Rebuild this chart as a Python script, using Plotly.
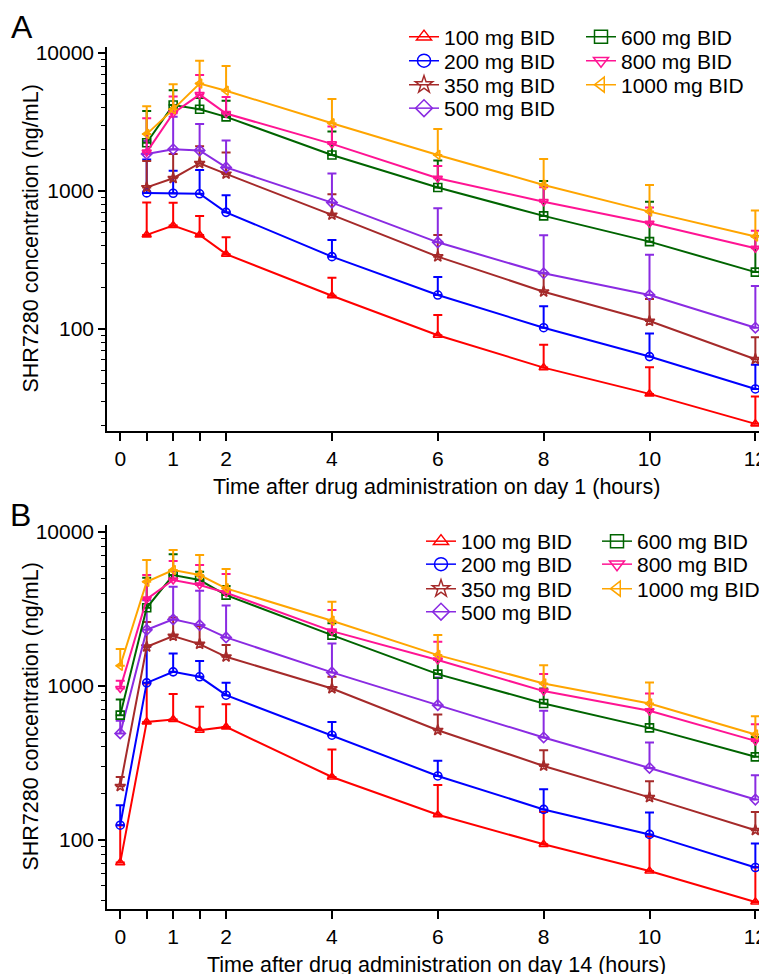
import plotly.graph_objects as go

# ---------------- data ----------------
doses = ["100 mg BID", "200 mg BID", "350 mg BID", "500 mg BID",
         "600 mg BID", "800 mg BID", "1000 mg BID"]

time_day1 = [0.5, 1, 1.5, 2, 4, 6, 8, 10, 12]
time_day14 = [0, 0.5, 1, 1.5, 2, 4, 6, 8, 10, 12]

# Day 1 means (ng/mL)
d1_100 = [480, 561, 480, 348, 174, 90, 52.4, 33.8, 20.5]
d1_200 = [967, 962, 953, 699, 334, 176, 102, 63, 36.7]
d1_350 = [1060, 1236, 1587, 1328, 670, 334, 186, 114, 60.3]
d1_500 = [1854, 2005, 1965, 1480, 823, 424, 253, 176, 102]
d1_600 = [2235, 4190, 3909, 3440, 1823, 1058, 659, 429, 258]
d1_800 = [1910, 3654, 4990, 3640, 2191, 1236, 836, 583, 384]
d1_1000 = [2580, 3900, 6000, 5320, 3092, 1823, 1105, 708, 467]
# Day 1 upper error bar ends (mean + SD)
d1_100_up = [823, 820, 659, 462, 235, 126, 76.6, 52.8, 32.3]
d1_200_up = [1690, 1400, 1420, 930, 441, 238, 146, 92.5, 55]
d1_350_up = [1650, 1854, 2106, 1895, 946, 480, 253, 165, 87]
d1_500_up = [2300, 3454, 3050, 2315, 1335, 750, 477, 344, 205]
d1_600_up = [3800, 5360, 4720, 4500, 2690, 1659, 1181, 836, 470]
d1_800_up = [3363, 4830, 6910, 4800, 2924, 1518, 1064, 757, 515]
d1_1000_up = [4100, 5930, 8790, 8050, 4642, 2813, 1706, 1105, 720]

# Day 14 means (ng/mL)
d14_100 = [70.8, 582, 604, 514, 540, 255, 145, 93.1, 62.5, 39.3]
d14_200 = [124, 1044, 1231, 1143, 868, 477, 259, 157, 108, 65.8]
d14_350 = [222, 1791, 2103, 1866, 1542, 960, 514, 301, 188, 115]
d14_500 = [490, 2310, 2700, 2479, 2062, 1221, 748, 461, 292, 182]
d14_600 = [644, 3214, 5246, 4866, 3885, 2134, 1190, 767, 532, 345]
d14_800 = [960, 3658, 4866, 4515, 4025, 2265, 1469, 923, 687, 438]
d14_1000 = [1348, 4742, 5650, 5246, 4297, 2644, 1582, 1035, 767, 482]
# Day 14 upper error bar ends (mean + SD)
d14_100_up = [124, 1035, 882, 729, 759, 385, 226, 151, 105, 66.4]
d14_200_up = [167, 1791, 1622, 1446, 1044, 582, 325, 212, 150, 94.2]
d14_350_up = [255, 2600, 2782, 2443, 1837, 1143, 650, 381, 239, 151]
d14_500_up = [591, 3600, 4400, 4148, 3329, 1885, 1132, 687, 428, 262]
d14_600_up = [814, 5035, 7146, 5510, 4447, 2544, 1483, 960, 701, 465]
d14_800_up = [1076, 5246, 6468, 6090, 5324, 3104, 1931, 1190, 891, 562]
d14_1000_up = [1730, 6564, 7625, 7080, 5735, 3516, 2134, 1361, 1050, 634]

x_tickvals = [0, 0.5, 1, 1.5, 2, 4, 6, 8, 10, 12]
x_ticktext = ["0", "", "1", "", "2", "4", "6", "8", "10", "12"]
y_tickvals = [100, 1000, 10000]
y_ticktext = ["100", "1000", "10000"]

# ---------------- styling ----------------
colors = ["#FF0000", "#0000FF", "#A52A2A", "#8A2BE2", "#006400", "#FF1493", "#FFA500"]
symbols = ["triangle-up-open", "circle-open", "star-open", "diamond-open",
           "square-open", "triangle-down-open", "triangle-left-open"]
FONT = "Arial, Liberation Sans, sans-serif"

day1_means = [d1_100, d1_200, d1_350, d1_500, d1_600, d1_800, d1_1000]
day1_ups = [d1_100_up, d1_200_up, d1_350_up, d1_500_up, d1_600_up, d1_800_up, d1_1000_up]
day14_means = [d14_100, d14_200, d14_350, d14_500, d14_600, d14_800, d14_1000]
day14_ups = [d14_100_up, d14_200_up, d14_350_up, d14_500_up, d14_600_up, d14_800_up, d14_1000_up]

# page offset: the browser body adds an 8px margin
OFF = 8
W, H = 767, 974
L, R = 107 - OFF, OFF
pw = W - L - R


def px_x(px):
    return (px - OFF - L) / pw


def px_y(py):
    return 1 - (py - OFF) / H


fig = go.Figure()


def add_panel(times, means, ups, xa, ya):
    for i in range(len(doses)):
        err = [u - m for u, m in zip(ups[i], means[i])]
        fig.add_trace(go.Scatter(
            x=times, y=means[i], mode="lines+markers", name=doses[i],
            xaxis=xa, yaxis=ya, showlegend=False,
            line=dict(color=colors[i], width=2),
            marker=dict(symbol=symbols[i], size=8, color=colors[i],
                        line=dict(color=colors[i], width=1.6)),
            error_y=dict(type="data", symmetric=False, array=err,
                         arrayminus=[0] * len(err), color=colors[i],
                         thickness=2, width=4.5),
        ))


add_panel(time_day1, day1_means, day1_ups, "x", "y")
add_panel(time_day14, day14_means, day14_ups, "x2", "y2")

# legend: one single-entry legend per row, two columns per panel
leg_common = dict(bgcolor="rgba(0,0,0,0)", borderwidth=0, xanchor="left", yanchor="middle",
                  font=dict(family=FONT, size=21, color="black"), tracegroupgap=0,
                  itemclick=False, itemdoubleclick=False)
panel_legend_pos = [
    # (col1 left px, col2 left px, row centres px)
    (404, 581, [37, 61, 85, 108.5]),
    (421, 597, [541.5, 564.5, 589, 612]),
]
legend_layout = {}
k = 0
for p, (c1, c2, rows) in enumerate(panel_legend_pos):
    for i in range(len(doses)):
        k += 1
        lname = "legend" if k == 1 else f"legend{k}"
        col_x = c1 if i < 4 else c2
        row_y = rows[i] if i < 4 else rows[i - 4]
        legend_layout[lname] = dict(leg_common, x=px_x(col_x), y=px_y(row_y))
        fig.add_trace(go.Scatter(
            x=[None], y=[None], mode="lines+markers", name=doses[i],
            xaxis="x" if p == 0 else "x2", yaxis="y" if p == 0 else "y2",
            legend=lname, showlegend=True,
            line=dict(color=colors[i], width=1.5),
            marker=dict(symbol=symbols[i], size=13, color=colors[i],
                        line=dict(color=colors[i], width=1.5)),
        ))


def minor_vals(lo, hi):
    vals = []
    for dec in [10, 100, 1000, 10000]:
        for kk in range(2, 10):
            v = kk * dec
            if lo <= v <= hi:
                vals.append(v)
    return vals


def ydom(top_px, bot_px):
    return [px_y(bot_px), px_y(top_px)]


axis_common = dict(showgrid=False, zeroline=False, showline=True, linecolor="black",
                   linewidth=1.5, ticks="outside", tickcolor="black", tickwidth=1.5,
                   automargin=False,
                   tickfont=dict(family=FONT, size=21, color="black"))

xaxis_cfg = dict(axis_common, range=[-0.25, 12.22], tickmode="array",
                 tickvals=x_tickvals, ticktext=x_ticktext, ticklen=8)

fig.update_layout(
    width=W, height=H,
    margin=dict(l=L, r=R, t=0, b=0, autoexpand=False),
    paper_bgcolor="white", plot_bgcolor="white",
    font=dict(family=FONT, size=21, color="black"),
    xaxis=dict(xaxis_cfg, anchor="y", domain=[0, 1]),
    xaxis2=dict(xaxis_cfg, anchor="y2", domain=[0, 1]),
    yaxis=dict(axis_common, type="log", range=[1.26, 4.043], domain=ydom(47, 431),
               anchor="x", tickmode="array", tickvals=y_tickvals, ticktext=y_ticktext,
               ticklen=7,
               minor=dict(tickvals=minor_vals(18, 11000), ticks="outside",
                          ticklen=4, tickcolor="black", tickwidth=1.2)),
    yaxis2=dict(axis_common, type="log", range=[1.5485, 4.045], domain=ydom(525, 909),
                anchor="x2", tickmode="array", tickvals=y_tickvals, ticktext=y_ticktext,
                ticklen=7,
                minor=dict(tickvals=minor_vals(35, 11000), ticks="outside",
                           ticklen=4, tickcolor="black", tickwidth=1.2)),
    **legend_layout,
)

ytitle = "SHR7280 concentration (ng/mL)"
ann = []
for top, bot in [(47, 431), (525, 909)]:
    ann.append(dict(text=ytitle, xref="paper", yref="paper", x=px_x(30.5),
                    y=px_y((top + bot) / 2), xanchor="center", yanchor="middle",
                    textangle=-90, showarrow=False,
                    font=dict(family=FONT, size=21.5, color="black")))
ann.append(dict(text="Time after drug administration on day 1 (hours)", xref="paper",
                yref="paper", x=px_x(436.5), y=px_y(487), xanchor="center", yanchor="middle",
                showarrow=False, font=dict(family=FONT, size=21.5, color="black")))
ann.append(dict(text="Time after drug administration on day 14 (hours)", xref="paper",
                yref="paper", x=px_x(436.5), y=px_y(965), xanchor="center", yanchor="middle",
                showarrow=False, font=dict(family=FONT, size=21.5, color="black")))
ann.append(dict(text="A", xref="paper", yref="paper", x=px_x(22), y=px_y(27),
                xanchor="center", yanchor="middle", showarrow=False,
                font=dict(family=FONT, size=32, color="black")))
ann.append(dict(text="B", xref="paper", yref="paper", x=px_x(20), y=px_y(515),
                xanchor="center", yanchor="middle", showarrow=False,
                font=dict(family=FONT, size=32, color="black")))
fig.update_layout(annotations=ann)

fig.write_html("out.html")
